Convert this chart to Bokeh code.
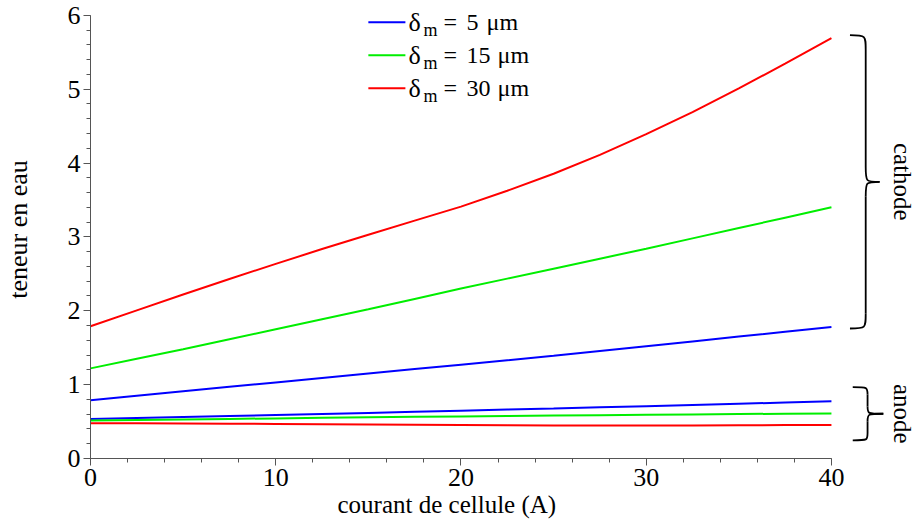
import math
from bokeh.plotting import figure
from bokeh.models import Range1d, SingleIntervalTicker, Title
from bokeh.core.properties import value
from bokeh.embed import file_html
from bokeh.resources import INLINE

# ---- data ----
current = [0, 2.5, 5, 7.5, 10, 12.5, 15, 17.5, 20, 22.5, 25, 27.5, 30, 32.5, 35, 37.5, 40]
cath_5 = [0.79, 0.85, 0.91, 0.97, 1.03, 1.09, 1.15, 1.21, 1.27, 1.33, 1.39, 1.455, 1.52,
          1.585, 1.65, 1.715, 1.78]
cath_15 = [1.22, 1.35, 1.48, 1.615, 1.75, 1.885, 2.02, 2.16, 2.30, 2.435, 2.57, 2.705, 2.84,
           2.98, 3.12, 3.26, 3.40]
cath_30 = [1.79, 2.005, 2.22, 2.43, 2.635, 2.835, 3.03, 3.22, 3.41, 3.625, 3.855, 4.11, 4.39,
           4.69, 5.01, 5.345, 5.69]
anod_5 = [0.535, 0.548, 0.561, 0.575, 0.589, 0.603, 0.617, 0.632, 0.647, 0.662, 0.677, 0.693,
          0.709, 0.725, 0.741, 0.758, 0.775]
anod_15 = [0.515, 0.522, 0.529, 0.536, 0.543, 0.55, 0.557, 0.564, 0.57, 0.576, 0.582, 0.587,
           0.592, 0.597, 0.602, 0.606, 0.61]
anod_30 = [0.477, 0.476, 0.474, 0.471, 0.468, 0.464, 0.46, 0.456, 0.452, 0.449, 0.447, 0.446,
           0.446, 0.447, 0.449, 0.452, 0.455]
series_labels = ["5", "15", "30"]
colors = ["#0000ff", "#00ee00", "#ff0000"]

FONT = "Liberation Serif"
FS = "26px"

p = figure(width=918, height=528, x_range=Range1d(0, 44.7), y_range=Range1d(0, 6.2),
           output_backend="svg", toolbar_location=None,
           min_border_left=90, min_border_right=0, min_border_top=0, min_border_bottom=70)
p.outline_line_color = None
p.grid.visible = False
p.background_fill_color = "white"

for ax in (p.xaxis[0], p.yaxis[0]):
    ax.axis_line_color = "#555555"
    ax.major_tick_line_color = "#555555"
    ax.minor_tick_line_color = "#555555"
    ax.major_tick_in = 0
    ax.major_tick_out = 7
    ax.minor_tick_in = 0
    ax.minor_tick_out = 4
    ax.major_label_text_font = FONT
    ax.major_label_text_font_size = FS
    ax.major_label_text_color = "black"
    ax.axis_label_text_font = FONT
    ax.axis_label_text_font_size = FS
    ax.axis_label_text_font_style = "normal"
    ax.axis_label_text_color = "black"

p.xaxis.ticker = SingleIntervalTicker(interval=10, num_minor_ticks=5)
p.yaxis.ticker = SingleIntervalTicker(interval=1, num_minor_ticks=5)
p.xaxis.bounds = (0, 40)
p.yaxis.bounds = (0, 6)
p.xaxis.major_label_standoff = 3
p.yaxis.major_label_standoff = 3
p.yaxis.axis_label = "teneur en eau"
p.yaxis.axis_label_standoff = 32

xtitle = Title(text="courant de cellule (A)", align="left", offset=247, standoff=0,
               text_font=FONT, text_font_size="25px", text_font_style="normal",
               text_color="black")
p.add_layout(xtitle, "below")

for ys, c in zip([cath_5, cath_15, cath_30], colors):
    p.line(current, ys, line_color=c, line_width=2)
for ys, c in zip([anod_5, anod_15, anod_30], colors):
    p.line(current, ys, line_color=c, line_width=2)

# ---- legend (manual, for subscript) ----
leg_rows = [5.905, 5.458, 5.011]
LX = 17.17
for lab, c, yr in zip(series_labels, colors, leg_rows):
    p.line([15.0, 17.0], [yr, yr], line_color=c, line_width=2)
    common = dict(text_font=value(FONT), text_baseline="middle", text_align="left",
                  text_color="black")
    p.text(x=[LX], y=[yr], text=["δ"], text_font_size="26px", **common)
    p.text(x=[LX], y=[yr], text=["m"], text_font_size="18px", x_offset=15, y_offset=8, **common)
    p.text(x=[LX], y=[yr], text=["="], text_font_size="24px", x_offset=35, **common)
    p.text(x=[LX], y=[yr], text=[lab], text_font_size="24px", x_offset=58, **common)
    p.text(x=[LX], y=[yr], text=["μm"], text_font_size="24px",
           x_offset=58 + 11 * len(lab) + 9, **common)

# ---- braces ----
def brace(x0, x1, x2, top, bottom, r):
    mid = (top + bottom) / 2
    bx0 = [x0, x1, x1, x0]
    by0 = [top, mid + r, mid - r, bottom]
    bx1 = [x1, x2, x2, x1]
    by1 = [top - r, mid, mid, bottom + r]
    cx0 = [x1, x1, x1, x1]
    cy0 = [top, mid, mid, bottom]
    p.bezier(x0=bx0, y0=by0, x1=bx1, y1=by1, cx0=cx0, cy0=cy0, cx1=cx0, cy1=cy0,
             line_color="black", line_width=1.8)
    p.segment(x0=[x1, x1], y0=[top - r, mid - r], x1=[x1, x1], y1=[mid + r, bottom + r],
              line_color="black", line_width=1.8)
    return mid

c_top = max(cath_30) + 0.04
c_bot = cath_5[-1] - 0.02
c_mid = brace(41.0, 41.85, 42.6, c_top, c_bot, 0.2)
a_top = max(anod_5) + 0.19
a_bot = min(anod_30) - 0.2
a_mid = brace(41.15, 41.95, 42.8, a_top, a_bot, 0.1)

p.text(x=[43.82, 43.82], y=[c_mid, a_mid], text=["cathode", "anode"], angle=-math.pi / 2,
       text_font=value(FONT), text_font_size="25px", text_align="center",
       text_baseline="middle", text_color="black")

open("out.html", "w").write(file_html(p, INLINE))
